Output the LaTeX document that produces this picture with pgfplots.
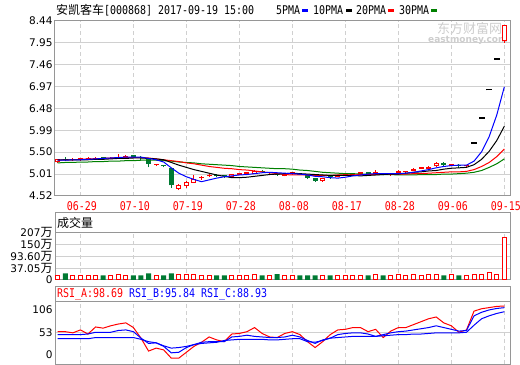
\documentclass[border=0pt]{standalone}
\usepackage{pgfplots}
\pgfplotsset{compat=1.18}
\usepackage{pgfplotstable}
\usepackage{fontspec}
\setmainfont{DejaVu Sans}
\newfontfamily\cjk{Noto Sans CJK SC}
\newfontfamily\monof[FakeStretch=0.83]{DejaVu Sans Mono}
\newcommand\mono{\monof\fontsize{12bp}{12bp}\selectfont}
\newcommand\num{\fontsize{10.5bp}{11bp}\selectfont}
\newcommand\wan{{\cjk\fontsize{12bp}{12bp}\selectfont 万}}
\definecolor{bord}{RGB}{150,150,150}
\definecolor{gridc}{RGB}{208,208,208}
\definecolor{kred}{RGB}{255,0,0}
\definecolor{kgreen}{RGB}{0,122,51}
\definecolor{magreen}{RGB}{0,128,0}
\definecolor{mablue}{RGB}{0,0,255}
\definecolor{wm}{RGB}{205,205,205}

\pgfplotstableread{
x o h l c
0 5.27 5.35 5.26 5.34
16 4.68 4.78 4.65 4.76
17 4.74 4.86 4.70 4.83
18 4.82 4.98 4.81 4.90
23 4.94 5.02 4.93 5.01
26 5.02 5.10 5.01 5.09
35 4.85 4.93 4.84 4.92
50 5.18 5.27 5.17 5.25
59 7.99 8.35 7.95 8.35
}\uphollow

\pgfplotstableread{
x o h l c
2 5.32 5.36 5.31 5.34
3 5.33 5.36 5.31 5.35
4 5.34 5.40 5.32 5.36
5 5.34 5.39 5.33 5.38
7 5.35 5.40 5.34 5.38
8 5.37 5.46 5.36 5.40
9 5.38 5.43 5.37 5.41
13 5.21 5.24 5.19 5.22
19 4.92 4.97 4.88 4.93
20 4.96 5.01 4.94 4.99
24 5.00 5.03 4.99 5.01
25 5.02 5.05 5.00 5.03
28 5.03 5.05 5.01 5.04
30 4.97 5.01 4.96 5.00
31 5.02 5.06 4.99 5.03
37 4.95 4.99 4.94 4.98
38 4.98 5.00 4.96 4.99
39 4.99 5.01 4.98 5.00
40 4.99 5.06 4.98 5.05
42 5.02 5.10 5.01 5.03
44 4.99 5.02 4.97 5.01
45 5.04 5.10 5.03 5.06
46 5.05 5.08 5.03 5.07
47 5.08 5.15 5.07 5.13
48 5.13 5.16 5.12 5.14
49 5.12 5.18 5.11 5.17
52 5.20 5.22 5.18 5.21
54 5.18 5.20 5.16 5.19
}\upsolid

\pgfplotstableread{
x o h l c
1 5.35 5.40 5.31 5.32
6 5.38 5.39 5.34 5.36
10 5.42 5.43 5.38 5.40
11 5.40 5.41 5.33 5.37
12 5.34 5.35 5.16 5.23
14 5.21 5.22 5.16 5.18
15 5.14 5.15 4.70 4.76
21 5.00 5.02 4.94 4.96
22 4.98 5.00 4.92 4.97
27 5.09 5.10 5.04 5.06
29 5.01 5.02 4.97 4.98
32 5.02 5.03 4.99 5.00
33 4.98 4.99 4.90 4.93
34 4.92 4.93 4.84 4.85
36 4.96 4.97 4.91 4.94
41 5.05 5.06 5.00 5.01
43 5.03 5.04 4.98 4.99
51 5.25 5.27 5.20 5.21
53 5.21 5.23 5.15 5.19
}\down

\pgfplotstableread{
x c
55 5.70
56 6.27
57 6.90
58 7.59
}\flat

\pgfplotstableread{
x m5 m10 m20 m30 ra rb rc
0 5.32 5.33 5.32 5.26 55 50 43
1 5.32 5.33 5.33 5.27 55 50 43
2 5.33 5.33 5.33 5.27 53 50 43
3 5.33 5.33 5.34 5.28 58 50 43
4 5.34 5.33 5.35 5.28 51 51 43
5 5.35 5.34 5.35 5.29 63 54 45
6 5.36 5.34 5.36 5.29 61 54 45
7 5.37 5.35 5.37 5.30 65 54 45
8 5.38 5.36 5.38 5.30 68 57 45
9 5.39 5.36 5.38 5.31 70 58 45
10 5.39 5.37 5.38 5.31 62 55 45
11 5.39 5.37 5.38 5.32 44 44 42
12 5.36 5.36 5.37 5.32 22 35 38
13 5.33 5.35 5.35 5.32 27 36 36
14 5.28 5.33 5.33 5.31 24 30 31
15 5.15 5.27 5.31 5.30 10 19 27
16 5.03 5.21 5.29 5.28 10 20 28
17 4.95 5.16 5.26 5.27 20 28 30
18 4.89 5.11 5.24 5.26 30 33 33
19 4.84 5.07 5.21 5.24 37 37 35
20 4.88 5.03 5.18 5.23 46 38 36
21 4.92 4.99 5.16 5.22 41 38 37
22 4.95 4.96 5.14 5.21 38 38 40
23 4.97 4.93 5.13 5.20 51 46 41
24 4.99 4.93 5.11 5.18 52 47 42
25 5.00 4.94 5.10 5.17 55 49 42
26 5.02 4.96 5.08 5.16 62 47 42
27 5.04 4.98 5.06 5.15 52 46 42
28 5.05 5.00 5.04 5.14 46 45 41
29 5.04 5.01 5.02 5.13 45 45 41
30 5.03 5.02 5.00 5.13 52 46 42
31 5.02 5.03 4.99 5.12 55 49 43
32 5.01 5.02 4.99 5.10 50 46 43
33 4.99 5.01 4.99 5.09 38 40 38
34 4.96 5.00 4.98 5.07 28 35 37
35 4.95 4.99 4.98 5.05 38 41 40
36 4.93 4.98 4.98 5.04 50 44 44
37 4.92 4.98 4.99 5.03 58 50 45
38 4.94 4.98 4.99 5.02 59 52 46
39 4.97 4.98 4.99 5.02 62 53 47
40 4.99 4.97 5.00 5.01 62 53 47
41 5.01 4.98 5.00 5.01 55 51 47
42 5.02 4.99 5.00 5.00 59 47 47
43 5.02 5.00 5.01 5.00 45 50 48
44 5.02 5.01 5.01 5.00 56 53 49
45 5.02 5.01 5.01 4.99 62 55 50
46 5.03 5.03 5.01 4.99 62 56 50
47 5.05 5.05 5.02 4.99 67 58 51
48 5.08 5.06 5.02 5.00 72 60 51
49 5.11 5.08 5.03 5.00 77 62 52
50 5.15 5.09 5.04 5.00 80 65 53
51 5.18 5.12 5.05 5.01 70 62 53
52 5.20 5.14 5.06 5.01 65 59 53
53 5.21 5.15 5.06 5.02 54 56 53
54 5.21 5.16 5.07 5.03 58 57 54
55 5.30 5.22 5.11 5.05 90 82 66
56 5.51 5.34 5.18 5.09 94 88 77
57 5.85 5.52 5.27 5.16 96 92 82
58 6.33 5.76 5.40 5.24 98 94.5 86
59 6.96 6.08 5.57 5.35 98.69 95.84 88.93
}\ma

\pgfplotstableread{
x v
0 20.6
2 20.6
3 20.6
4 20.6
5 20.6
7 20.6
8 26
9 20.6
13 20.6
16 26
17 26
18 26
19 20.6
20 20.6
23 20.6
24 20.6
25 20.6
26 26
28 20.6
30 20.6
31 20.6
35 20.6
37 20.6
38 20.6
39 20.6
40 20.6
42 26
44 20.6
45 26
46 20.6
47 26
48 20.6
49 26
50 26
52 26
54 20.6
55 26
56 26
57 32
58 26
59 187
}\vup

\pgfplotstableread{
x v
1 29
6 20.6
10 20.6
11 20.6
12 29
14 20.6
15 29
21 20.6
22 20.6
27 20.6
29 26
32 20.6
33 20.6
34 20.6
36 20.6
41 20.6
43 20.6
51 20.6
53 20.6
}\vdown

\pgfplotsset{
  panel/.style={
    scale only axis, width=455bp,
    xmin=-0.36, xmax=59.75,
    axis line style={draw=bord, line width=1bp},
    major tick length=0pt,
    xtick={3,10,17,24,31,38,45,52,59},
    xmajorgrids, ymajorgrids,
    major x grid style={draw=gridc, line width=1bp, dash pattern=on 4bp off 3bp},
    major y grid style={draw=gridc, line width=1bp},
    yticklabel style={font=\num, inner sep=0pt, anchor=east, xshift=-2.3bp},
  },
  cbar/.style 2 args={draw=none, mark=none,
    error bars/.cd, y dir=plus, y explicit, error mark=none,
    error bar style={draw=#1, line width=#2, solid}},
}

\begin{document}
\begin{tikzpicture}
% watermark
\node[anchor=west, inner sep=0, text=wm] at (437bp,336.5bp) {\cjk\fontsize{13bp}{13bp}\selectfont 东方财富网};
\node[anchor=west, inner sep=0, text=wm] at (428bp,325bp) {\bfseries\fontsize{9bp}{9bp}\selectfont eastmoney.com};
% title
\node[anchor=base west, inner sep=0] at (56bp,350bp) {{\cjk\fontsize{12bp}{12bp}\selectfont 安凯客车}{\mono [000868] 2017-09-19 15:00}};
\node[anchor=base west, inner sep=0] at (276bp,350bp) {\mono 5PMA};
\fill[mablue] (302bp,352.5bp) rectangle (308bp,355.5bp);
\node[anchor=base west, inner sep=0] at (313bp,350bp) {\mono 10PMA};
\fill[black] (346bp,352.5bp) rectangle (352bp,355.5bp);
\node[anchor=base west, inner sep=0] at (356bp,350bp) {\mono 20PMA};
\fill[kred] (388bp,352.5bp) rectangle (394bp,355.5bp);
\node[anchor=base west, inner sep=0] at (399bp,350bp) {\mono 30PMA};
\fill[magreen] (431bp,352.5bp) rectangle (437bp,355.5bp);

% panel headers
\draw[bord, line width=1bp] (55bp,132.3bp) rectangle (510bp,152bp);
\node[anchor=base west, inner sep=0] at (57bp,137.5bp) {\cjk\fontsize{12bp}{12bp}\selectfont 成交量};
\draw[bord, line width=1bp] (55bp,63.3bp) rectangle (510bp,78.3bp);
\node[anchor=base west, inner sep=0] at (57bp,67bp) {\mono\textcolor{kred}{RSI\_A:98.69} \textcolor{mablue}{RSI\_B:95.84} \textcolor{mablue}{RSI\_C:88.93}};

% main price panel
\begin{axis}[panel, at={(55bp,169bp)}, anchor=south west, height=175.3bp,
  ymin=4.52, ymax=8.44,
  ytick={4.52,5.01,5.50,5.99,6.48,6.97,7.46,7.95,8.44},
  yticklabels={4.52,5.01,5.50,5.99,6.48,6.97,7.46,7.95,8.44},
  xticklabels={06-29,07-10,07-19,07-28,08-08,08-17,08-28,09-06,09-15},
  xticklabel style={font=\mono, text=kred, anchor=base, yshift=-15bp, xshift=1.5bp, inner sep=0pt},
]
% wicks
\addplot[cbar={kred}{1bp}] table[x=x, y=l, y error expr=\thisrow{h}-\thisrow{l}] {\uphollow};
\addplot[cbar={kred}{1bp}] table[x=x, y=l, y error expr=\thisrow{h}-\thisrow{l}] {\upsolid};
\addplot[cbar={kgreen}{1bp}] table[x=x, y=l, y error expr=\thisrow{h}-\thisrow{l}] {\down};
% bodies
\addplot[cbar={kred}{5bp}] table[x=x, y=o, y error expr=\thisrow{c}-\thisrow{o}] {\uphollow};
\addplot[cbar={white}{3bp}] table[x=x, y expr=\thisrow{o}+0.0224, y error expr=\thisrow{c}-\thisrow{o}-0.0448] {\uphollow};
\addplot[cbar={kred}{5bp}] table[x=x, y=o, y error expr={max(\thisrow{c}-\thisrow{o},0.03)}] {\upsolid};
\addplot[cbar={kgreen}{5bp}] table[x=x, y=c, y error expr={max(\thisrow{o}-\thisrow{c},0.03)}] {\down};
\addplot[cbar={black}{6bp}] table[x=x, y expr=\thisrow{c}-0.02, y error expr=0.04] {\flat};
% moving averages
\addplot[magreen, line width=1bp, mark=none] table[x=x, y=m30] {\ma};
\addplot[kred, line width=1bp, mark=none] table[x=x, y=m20] {\ma};
\addplot[black, line width=1bp, mark=none] table[x=x, y=m10] {\ma};
\addplot[mablue, line width=1bp, mark=none] table[x=x, y=m5] {\ma};
\end{axis}

% volume panel
\begin{axis}[panel, at={(55bp,85bp)}, anchor=south west, height=47.3bp,
  ymin=0, ymax=207,
  ytick={51.75,103.5,155.25},
  yticklabels={37.05\wan,93.60\wan,150\wan},
  extra y ticks={0,207}, extra y tick labels={0,207\wan},
  extra y tick style={grid=none},
  xticklabels={},
]
\addplot[ybar, bar width=5bp, bar shift=0pt, fill=kgreen, draw=none] table[x=x, y=v] {\vdown};
\addplot[ybar, bar width=4bp, bar shift=0pt, fill=white, draw=kred, line width=1bp] table[x=x, y=v] {\vup};
\end{axis}

% RSI panel
\begin{axis}[panel, at={(55bp,1bp)}, anchor=south west, height=62.3bp,
  ymin=0, ymax=106,
  ytick={53}, yticklabels={53},
  extra y ticks={15.3,91.8}, extra y tick labels={0,106},
  extra y tick style={grid=none},
  xticklabels={},
]
\addplot[kred, line width=1bp, mark=none] table[x=x, y=ra] {\ma};
\addplot[mablue, line width=1bp, mark=none] table[x=x, y=rb] {\ma};
\addplot[mablue, line width=1bp, mark=none] table[x=x, y=rc] {\ma};
\end{axis}

\pgfresetboundingbox
\useasboundingbox (0,0) rectangle (520bp,365bp);
\end{tikzpicture}
\end{document}
